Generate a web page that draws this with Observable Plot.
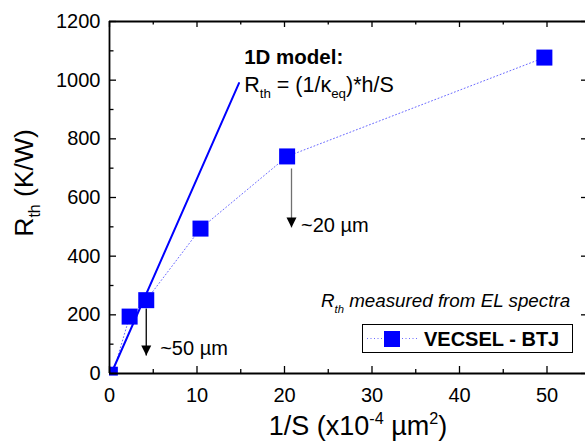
<!DOCTYPE html>
<html><head><meta charset="utf-8">
<script src="https://cdn.jsdelivr.net/npm/d3@7"></script>
<script src="https://cdn.jsdelivr.net/npm/@observablehq/plot@0.6"></script>
<style>
body{margin:0;background:#fff;}
#chart{position:relative;width:585px;height:441px;overflow:hidden;}
</style></head><body><div id="chart"></div>
<script>
// ---- data ----
const invS = [0.45, 2.3, 4.2, 10.4, 20.3, 49.7];          // 1/S (x10^-4 µm^2)
const rth  = [8, 194, 250, 494, 740, 1077];                // R_th (K/W)
const modelX = [0.2, 14.8];                                // 1D model line
const modelY = [0, 990];
const xTicks = [0, 10, 20, 30, 40, 50];
const xMinor = [5, 15, 25, 35, 45];
const yTicks = [0, 200, 400, 600, 800, 1000, 1200];
const yMinor = [100, 300, 500, 700, 900, 1100];
const arrowX    = [4.2, 20.8];
const arrowFrom = [222, 699];
const arrowTo   = [61, 498];
const arrowLabels = ["~50 µm", "~20 µm"];
const arrowLabelX = [5.85, 21.95];
const arrowLabelY = [61, 481];
const modelTitle = "1D model:";
const modelAnnX = 15.45, modelTitleY = 1053, modelEqY = 958;
const noteX = 52.7, noteY = 225;
const legendLabel = "VECSEL - BTJ";
const xTitle = [["1/S (x10",""],["-4","sup"],[" µm",""],["2","sup"],[")",""]];
const yTitle = [["R",""],["th","sub"],[" (K/W)",""]];

const W = 585, H = 441, mL = 109, mR = 0, mT = 21, mB = 68;
const plotW = W - mL - mR, plotH = H - mT - mB;
const FONT = "'Liberation Sans', Arial, sans-serif";

const pts = invS.map((x, i) => ({x, y: rth[i]}));
const model = modelX.map((x, i) => ({x, y: modelY[i]}));
const arrows = arrowX.map((x, i) => ({x, from: arrowFrom[i], to: arrowTo[i], c: i === 0 ? "black" : "#707070"}));
const downTri = {draw(ctx) { ctx.moveTo(0, 0); ctx.lineTo(-5, -10); ctx.lineTo(5, -10); ctx.closePath(); }};

const plot = Plot.plot({
  width: W, height: H, marginLeft: mL, marginRight: mR, marginTop: mT, marginBottom: mB,
  x: {domain: [0, 54.4], axis: null},
  y: {domain: [0, 1200], axis: null},
  style: {fontFamily: FONT, background: "white", color: "black", overflow: "visible"},
  marks: [
    Plot.line(pts, {x: "x", y: "y", stroke: "#6a6aff", strokeWidth: 1, strokeDasharray: "1,2.5"}),
    Plot.line(model, {x: "x", y: "y", stroke: "#0000ff", strokeWidth: 2}),
    Plot.link(arrows, {x1: "x", x2: "x", y1: "from", y2: "to", stroke: "c", strokeWidth: 1.3}),
    Plot.dot(arrows, {x: "x", y: "to", symbol: downTri, fill: "black", stroke: "none"}),
    Plot.dot(pts.slice(1), {x: "x", y: "y", symbol: "square", r: 9.03, fill: "#0000ff", stroke: "none"}),
    Plot.dot(pts.slice(0, 1), {x: "x", y: "y", symbol: "square", r: 5, fill: "#0000ff", stroke: "none"}),
    // frame (left, bottom, top)
    Plot.ruleX([0], {strokeWidth: 1.8}),
    Plot.ruleY([0, 1200], {strokeWidth: 1.8}),
    // inward ticks
    Plot.ruleX(xTicks, {insetTop: plotH - 7, strokeWidth: 1.3}),
    Plot.ruleX(xMinor, {insetTop: plotH - 4, strokeWidth: 1.3}),
    Plot.ruleX(xTicks, {insetBottom: plotH - 6, strokeWidth: 1.3}),
    Plot.ruleX(xMinor, {insetBottom: plotH - 3.5, strokeWidth: 1.3}),
    Plot.ruleY(yTicks, {insetRight: plotW - 7, strokeWidth: 1.3}),
    Plot.ruleY(yMinor, {insetRight: plotW - 4.5, strokeWidth: 1.3}),
    Plot.ruleY(yTicks, {insetLeft: plotW - 4, strokeWidth: 1.3}),
    Plot.axisX({ticks: xTicks, tickSize: 0, tickPadding: 14, fontSize: 20, label: null, fill: "black", tickFormat: d => String(d)}),
    Plot.axisY({ticks: yTicks, tickSize: 0, tickPadding: 9, fontSize: 20, label: null, fill: "black", tickFormat: d => String(d)})
  ]
});
document.getElementById("chart").appendChild(plot);

const sx = plot.scale("x"), sy = plot.scale("y");
const svg = d3.select(plot);

function rich(x, y, parts, size, attrs = {}, subScale = 0.6) {
  const t = svg.append("text").attr("x", x).attr("y", y)
    .attr("font-family", FONT).attr("font-size", size).attr("fill", "black")
    .attr("text-anchor", "start");
  for (const [k, v] of Object.entries(attrs)) t.attr(k, v);
  let shift = 0;
  for (const [s, kind] of parts) {
    const target = kind === "sub" ? 0.3 * size : kind === "sup" ? -0.42 * size : 0;
    const sp = t.append("tspan").text(s).attr("dy", target - shift);
    if (kind) sp.attr("font-size", size * subScale);
    shift = target;
  }
  return t;
}

// annotations
rich(sx.apply(modelAnnX), sy.apply(modelTitleY), [[modelTitle, ""]], 20.5, {"font-weight": "bold"});
rich(sx.apply(modelAnnX), sy.apply(modelEqY),
  [["R",""],["th","sub"],[" = (1/κ",""],["eq","sub"],[")*h/S",""]], 21.5, {}, 0.62);
arrowLabels.forEach((s, i) => rich(sx.apply(arrowLabelX[i]), sy.apply(arrowLabelY[i]), [[s, ""]], 20));
rich(sx.apply(noteX), sy.apply(noteY),
  [["R",""],["th","sub"],[" measured from EL spectra",""]], 18.8, {"font-style": "italic", "text-anchor": "end"});

// legend
const lg = svg.append("g");
lg.append("rect").attr("x", 362.5).attr("y", 324.5).attr("width", 210).attr("height", 28)
  .attr("fill", "white").attr("stroke", "black").attr("stroke-width", 1);
lg.append("line").attr("x1", 367).attr("x2", 417).attr("y1", 338.5).attr("y2", 338.5)
  .attr("stroke", "#6a6aff").attr("stroke-width", 1).attr("stroke-dasharray", "1,2.5");
lg.append("rect").attr("x", 384).attr("y", 331).attr("width", 16).attr("height", 16).attr("fill", "#0000ff");
rich(424, 345.5, [[legendLabel, ""]], 20, {"font-weight": "bold"});

// axis titles
rich(358, 435, xTitle, 27, {"text-anchor": "middle"});
rich(0, 0, yTitle, 26.5, {"text-anchor": "middle", "transform": "translate(32.5,183) rotate(-90)"});
</script></body></html>
